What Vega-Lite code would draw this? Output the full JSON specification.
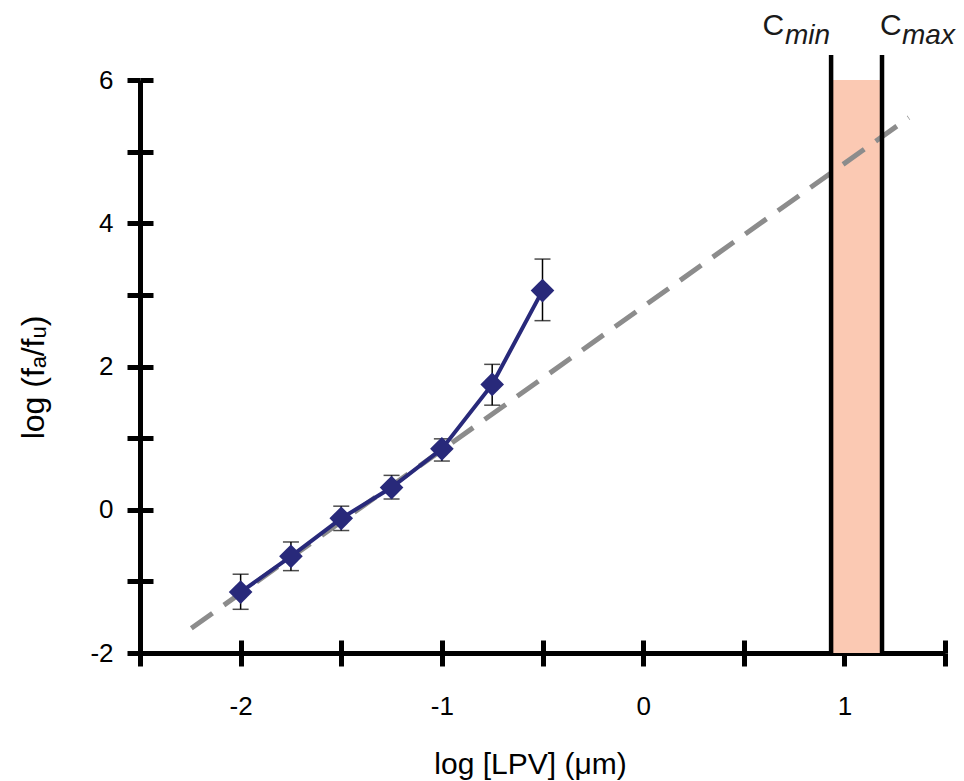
{
  "$schema": "https://vega.github.io/schema/vega-lite/v6.json",
  "autosize": "none",
  "width": 805,
  "height": 573,
  "padding": {"left": 140, "top": 80, "right": 19, "bottom": 128},
  "background": "white",
  "config": {
    "font": "Liberation Sans",
    "view": {"stroke": null},
    "axis": {"grid": false, "zindex": 1}
  },
  "datasets": {
    "pts": [
      {"x": -2, "y": -1.15, "lo": -1.39, "hi": -0.9},
      {"x": -1.75, "y": -0.65, "lo": -0.85, "hi": -0.45},
      {"x": -1.5, "y": -0.12, "lo": -0.29, "hi": 0.05},
      {"x": -1.25, "y": 0.31, "lo": 0.15, "hi": 0.48},
      {"x": -1, "y": 0.85, "lo": 0.68, "hi": 0.99},
      {"x": -0.75, "y": 1.75, "lo": 1.46, "hi": 2.03},
      {"x": -0.5, "y": 3.06, "lo": 2.64, "hi": 3.5}
    ],
    "fit": [
      {"x": -2.245, "y": -1.655},
      {"x": 1.32, "y": 5.475}
    ],
    "band": [
      {"x": 0.934, "x2": 1.187, "y": -2, "y2": 6}
    ],
    "clim": [
      {"c": "C", "sub": "min", "x": 0.934, "ylo": -2, "yhi": 6.35},
      {"c": "C", "sub": "max", "x": 1.187, "ylo": -2, "yhi": 6.35}
    ]
  },
  "resolve": {"axis": {"x": "independent", "y": "independent"}},
  "layer": [
    {
      "data": {"name": "band"},
      "mark": {"type": "rect", "color": "#fbc9b3"},
      "encoding": {
        "x": {"field": "x", "type": "quantitative", "axis": null},
        "x2": {"field": "x2"},
        "y": {"field": "y", "type": "quantitative", "axis": null},
        "y2": {"field": "y2"}
      }
    },
    {
      "data": {"name": "fit"},
      "mark": {"type": "line", "color": "#8c8c8c", "strokeWidth": 5, "strokeDash": [26, 14]},
      "encoding": {
        "x": {"field": "x", "type": "quantitative", "axis": null},
        "y": {"field": "y", "type": "quantitative", "axis": null}
      }
    },
    {
      "data": {"name": "clim"},
      "mark": {"type": "rule", "color": "black", "strokeWidth": 4.5},
      "encoding": {
        "x": {"field": "x", "type": "quantitative", "axis": null},
        "y": {"field": "ylo", "type": "quantitative", "axis": null},
        "y2": {"field": "yhi"}
      }
    },
    {
      "data": {"name": "pts"},
      "mark": {"type": "errorbar", "ticks": true, "size": 16, "thickness": 1.5, "color": "black"},
      "encoding": {
        "x": {"field": "x", "type": "quantitative", "axis": null},
        "y": {"field": "lo", "type": "quantitative", "axis": null},
        "y2": {"field": "hi"}
      }
    },
    {
      "data": {"name": "pts"},
      "mark": {"type": "line", "color": "#28297a", "strokeWidth": 4},
      "encoding": {
        "x": {
          "field": "x", "type": "quantitative",
          "scale": {"domain": [-2.5, 1.5], "nice": false, "zero": false},
          "axis": {
            "orient": "bottom",
            "values": [-2.5, -2, -1.5, -1, -0.5, 0, 0.5, 1, 1.5],
            "labelExpr": "datum.value % 1 === 0 && datum.value >= -2 && datum.value <= 1 ? '' + datum.value : ''",
            "labelOverlap": false,
            "labelFlush": false,
            "tickSize": 13, "tickWidth": 5, "tickColor": "black",
            "domainWidth": 5, "domainColor": "black",
            "labelFontSize": 26, "labelColor": "black", "labelPadding": 48, "labelBaseline": "alphabetic",
            "title": "log [LPV] (μm)",
            "titleFontSize": 30, "titleFontWeight": "normal", "titleColor": "black",
            "titleX": 390, "titleY": 120, "titleBaseline": "alphabetic", "titleAlign": "center"
          }
        },
        "y": {
          "field": "y", "type": "quantitative",
          "scale": {"domain": [-2, 6], "nice": false, "zero": false},
          "axis": {
            "orient": "left",
            "values": [-2, -1, 0, 1, 2, 3, 4, 5, 6],
            "labelExpr": "datum.value % 2 === 0 ? '' + datum.value : ''",
            "labelOverlap": false,
            "labelFlush": false,
            "tickSize": 13, "tickWidth": 5, "tickColor": "black",
            "domainWidth": 5, "domainColor": "black",
            "labelFontSize": 26, "labelColor": "black", "labelPadding": 14, "labelBaseline": "middle",
            "title": "log (fₐ/fᵤ)",
            "titleFontSize": 32, "titleFontWeight": "normal", "titleColor": "black",
            "titleAngle": 270, "titleX": -107, "titleY": 297, "titleAlign": "center", "titleBaseline": "middle"
          }
        }
      }
    },
    {
      "data": {"name": "pts"},
      "mark": {"type": "point", "shape": "diamond", "filled": true, "size": 560, "color": "#28297a", "opacity": 1},
      "encoding": {
        "x": {
          "field": "x", "type": "quantitative",
          "axis": {
            "orient": "bottom",
            "values": [-2.5, -2, -1.5, -1, -0.5, 0, 0.5, 1, 1.5],
            "tickSize": -13, "tickWidth": 5, "tickColor": "black",
            "domain": false, "labels": false, "title": null
          }
        },
        "y": {
          "field": "y", "type": "quantitative",
          "axis": {
            "orient": "left",
            "values": [-2, -1, 0, 1, 2, 3, 4, 5, 6],
            "tickSize": -13, "tickWidth": 5, "tickColor": "black",
            "domain": false, "labels": false, "title": null
          }
        }
      }
    },
    {
      "data": {"name": "clim"},
      "transform": [{"filter": "datum.sub === 'min'"}],
      "mark": {"type": "text", "align": "right", "baseline": "alphabetic", "dx": -47, "dy": -20, "fontSize": 30, "color": "#1a1a1a"},
      "encoding": {
        "x": {"field": "x", "type": "quantitative", "axis": null},
        "y": {"field": "yhi", "type": "quantitative", "axis": null},
        "text": {"field": "c"}
      }
    },
    {
      "data": {"name": "clim"},
      "transform": [{"filter": "datum.sub === 'min'"}],
      "mark": {"type": "text", "align": "right", "baseline": "alphabetic", "dx": -1, "dy": -11, "fontSize": 28, "fontStyle": "italic", "color": "#1a1a1a"},
      "encoding": {
        "x": {"field": "x", "type": "quantitative", "axis": null},
        "y": {"field": "yhi", "type": "quantitative", "axis": null},
        "text": {"field": "sub"}
      }
    },
    {
      "data": {"name": "clim"},
      "transform": [{"filter": "datum.sub === 'max'"}],
      "mark": {"type": "text", "align": "left", "baseline": "alphabetic", "dx": -2, "dy": -20, "fontSize": 30, "color": "#1a1a1a"},
      "encoding": {
        "x": {"field": "x", "type": "quantitative", "axis": null},
        "y": {"field": "yhi", "type": "quantitative", "axis": null},
        "text": {"field": "c"}
      }
    },
    {
      "data": {"name": "clim"},
      "transform": [{"filter": "datum.sub === 'max'"}],
      "mark": {"type": "text", "align": "left", "baseline": "alphabetic", "dx": 20, "dy": -11, "fontSize": 28, "fontStyle": "italic", "color": "#1a1a1a"},
      "encoding": {
        "x": {"field": "x", "type": "quantitative", "axis": null},
        "y": {"field": "yhi", "type": "quantitative", "axis": null},
        "text": {"field": "sub"}
      }
    }
  ]
}
